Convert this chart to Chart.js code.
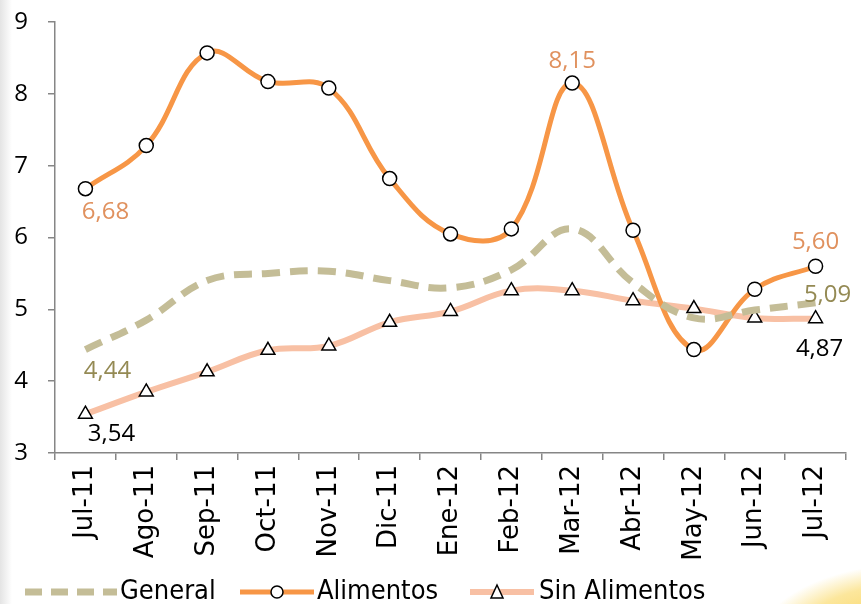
<!DOCTYPE html>
<html>
<head>
<meta charset="utf-8">
<script src="https://cdn.jsdelivr.net/npm/chart.js"></script>
<style>
  html, body { margin: 0; padding: 0; }
  body {
    width: 861px; height: 604px; overflow: hidden;
    background:
      radial-gradient(ellipse 200px 110px at 910px 650px, rgba(246, 196, 40, 0.95) 0%, rgba(250, 214, 90, 0.6) 60%, rgba(255, 255, 255, 0) 78%),
      linear-gradient(to right, #e4e4e4 0px, #ffffff 12px);
  }
  #wrap { position: relative; width: 861px; height: 604px; }
</style>
</head>
<body>
<div id="wrap"><canvas id="inflChart" width="861" height="604"></canvas></div>
<script>
const categories = ['Jul-11', 'Ago-11', 'Sep-11', 'Oct-11', 'Nov-11', 'Dic-11', 'Ene-12',
                    'Feb-12', 'Mar-12', 'Abr-12', 'May-12', 'Jun-12', 'Jul-12'];
const generalData = [4.44, 4.85, 5.40, 5.50, 5.53, 5.40, 5.30, 5.55, 6.12, 5.37, 4.88, 4.99, 5.09];
const alimentosData = [6.68, 7.28, 8.57, 8.17, 8.08, 6.82, 6.05, 6.12, 8.15, 6.10, 4.44, 5.28, 5.60];
const sinAlimentosData = [3.54, 3.85, 4.13, 4.43, 4.49, 4.82, 4.97, 5.26, 5.26, 5.12, 5.01, 4.88, 4.87];
const yTicks = [3, 4, 5, 6, 7, 8, 9];

// which points get a value label: [dataset index, point index, dx, dy, color]
const valueLabels = [
    [1, 0, 20, 24, '#E0915E'],
    [0, 0, 22, 22, '#948A54'],
    [2, 0, 26, 20, '#000000'],
    [1, 8, 0, -22, '#E0915E'],
    [1, 12, 0, -24, '#E0915E'],
    [0, 12, 12, -8, '#948A54'],
    [2, 12, 4, 30, '#000000']
];

const fontMain = "'Liberation Sans Narrow', 'DejaVu Sans Condensed', sans-serif";
const fontTicks = "'Open Sans', 'DejaVu Sans', sans-serif";
const fontCats = "'DejaVu Sans', 'Open Sans', sans-serif";

function fmt(v) {
    return v.toFixed(2).replace('.', ',');
}

const valueLabelPlugin = {
    id: 'valueLabels',
    afterDatasetsDraw(chart) {
        const ctx = chart.ctx;
        ctx.save();
        ctx.font = "24px " + fontTicks;
        ctx.textAlign = 'center';
        ctx.textBaseline = 'middle';
        valueLabels.forEach(function(l) {
            const meta = chart.getDatasetMeta(l[0]);
            const pt = meta.data[l[1]];
            const v = chart.data.datasets[l[0]].data[l[1]];
            ctx.fillStyle = l[4];
            ctx.fillText(fmt(v), pt.x + l[2], pt.y + l[3]);
        });
        ctx.restore();
    }
};

const legendPlugin = {
    id: 'lineLegend',
    afterDraw(chart) {
        const ctx = chart.ctx;
        const y = 592;
        ctx.save();
        ctx.font = "27px " + fontMain;
        ctx.textBaseline = 'middle';
        ctx.lineCap = 'butt';

        // General
        ctx.strokeStyle = '#C4BD97';
        ctx.lineWidth = 7;
        ctx.setLineDash([17, 9]);
        ctx.beginPath(); ctx.moveTo(25, y); ctx.lineTo(117, y); ctx.stroke();
        ctx.setLineDash([]);
        ctx.fillStyle = '#000';
        ctx.fillText('General', 120, y);

        // Alimentos
        ctx.strokeStyle = '#F79646';
        ctx.lineWidth = 5;
        ctx.beginPath(); ctx.moveTo(240, y); ctx.lineTo(314, y); ctx.stroke();
        ctx.beginPath(); ctx.arc(277, y, 6, 0, Math.PI * 2);
        ctx.fillStyle = '#fff'; ctx.fill();
        ctx.strokeStyle = '#000'; ctx.lineWidth = 1.5; ctx.stroke();
        ctx.fillStyle = '#000';
        ctx.fillText('Alimentos', 317, y);

        // Sin Alimentos
        ctx.strokeStyle = '#F8C0A4';
        ctx.lineWidth = 6;
        ctx.beginPath(); ctx.moveTo(470, y); ctx.lineTo(534, y); ctx.stroke();
        ctx.beginPath();
        ctx.moveTo(497, y - 7); ctx.lineTo(503, y + 6); ctx.lineTo(491, y + 6); ctx.closePath();
        ctx.fillStyle = '#fff'; ctx.fill();
        ctx.strokeStyle = '#000'; ctx.lineWidth = 1.5; ctx.stroke();
        ctx.fillStyle = '#000';
        ctx.fillText('Sin Alimentos', 539, y);
        ctx.restore();
    }
};

new Chart(document.getElementById('inflChart'), {
    type: 'line',
    data: {
        labels: categories,
        datasets: [
            {
                label: 'General',
                data: generalData,
                borderColor: '#C4BD97',
                borderWidth: 7,
                borderDash: [18, 10],
                tension: 0.4,
                pointRadius: 0,
                fill: false
            },
            {
                label: 'Alimentos',
                data: alimentosData,
                borderColor: '#F79646',
                borderWidth: 5,
                tension: 0.4,
                pointStyle: 'circle',
                pointRadius: 7,
                pointBackgroundColor: '#FFFFFF',
                pointBorderColor: '#000000',
                pointBorderWidth: 1.5,
                fill: false
            },
            {
                label: 'Sin Alimentos',
                data: sinAlimentosData,
                borderColor: '#F8C0A4',
                borderWidth: 6,
                tension: 0.4,
                pointStyle: 'triangle',
                pointRadius: 8,
                pointBackgroundColor: '#FFFFFF',
                pointBorderColor: '#000000',
                pointBorderWidth: 1.5,
                fill: false
            }
        ]
    },
    options: {
        responsive: false,
        animation: false,
        layout: {
            padding: { top: 22, right: 15, bottom: 40, left: 0 }
        },
        scales: {
            x: {
                offset: true,
                grid: {
                    display: true,
                    offset: true,
                    drawOnChartArea: false,
                    tickLength: 7,
                    color: '#868686',
                    lineWidth: 1.5
                },
                border: { color: '#868686', width: 1.5 },
                ticks: {
                    minRotation: 90,
                    maxRotation: 90,
                    autoSkip: false,
                    padding: 5,
                    color: '#000',
                    font: { family: fontCats, size: 26 }
                },
                afterFit: function(scale) {
                    scale.height = 111;
                    scale.paddingLeft = 0;
                    scale.paddingRight = 0;
                }
            },
            y: {
                min: 3,
                max: 9,
                afterBuildTicks: function(scale) {
                    scale.ticks = yTicks.map(function(v) { return { value: v }; });
                },
                grid: {
                    display: true,
                    drawOnChartArea: false,
                    tickLength: 7,
                    color: '#868686',
                    lineWidth: 1.5
                },
                border: { color: '#868686', width: 1.5 },
                ticks: {
                    padding: 20,
                    color: '#000',
                    font: { family: fontTicks, size: 24 }
                },
                afterFit: function(scale) {
                    scale.width = 55;
                    scale.paddingTop = 0;
                    scale.paddingBottom = 0;
                }
            }
        },
        plugins: {
            legend: { display: false },
            tooltip: { enabled: false }
        }
    },
    plugins: [valueLabelPlugin, legendPlugin]
});
</script>
</body>
</html>
